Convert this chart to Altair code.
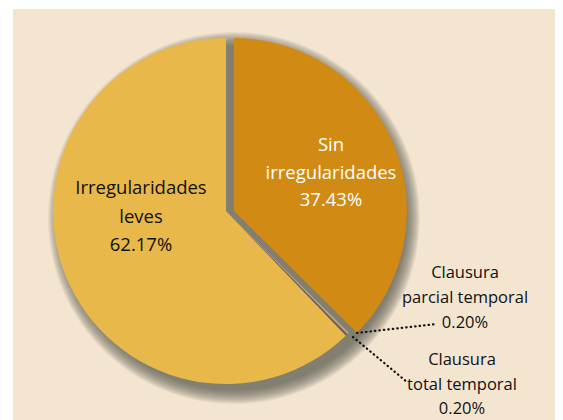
import math
import altair as alt
import pandas as pd

# ---- data ----
categories = ["Sin irregularidades", "Clausura parcial temporal",
              "Clausura total temporal", "Irregularidades leves"]
shares = [37.43, 0.20, 0.20, 62.17]
label_lines = [["Sin", "irregularidades"], ["Clausura", "parcial temporal"],
               ["Clausura", "total temporal"], ["Irregularidades", "leves"]]
slice_colors = ["#D18A13", "#B6A488", "#7B5C58", "#E8B84A"]

starts, ends, acc = [], [], 0.0
for s in shares:
    starts.append(acc)
    acc += s
    ends.append(acc)

labels = [lines + [f"{v:.2f}%"] for lines, v in zip(label_lines, shares)]
df = pd.DataFrame({"category": categories, "share": shares, "start": starts,
                   "end": ends, "label": labels})

# ---- layout ----
W, H = 547, 412
R = 173
CX, CY = 218, 203          # centre of the pie
EXPLODE = 8                # horizontal offset of the "Sin irregularidades" slice
BG = "#F4E5D1"
FONT = "Open Sans"

theta_scale = alt.Scale(domain=[0, 100], range=[0, 2 * math.pi])
color_scale = alt.Scale(domain=categories, range=slice_colors)

one = alt.Data(values=[{"k": 0}])

background = alt.Chart(one).mark_rect(color=BG).encode(
    x=alt.value(5), x2=alt.value(W), y=alt.value(1), y2=alt.value(H))

shadow_layers = []
for k in range(15, 0, -1):
    shadow_layers.append(
        alt.Chart(one).mark_arc(radius=R + k - 2, color="#5E564A", opacity=0.08).encode(
            theta=alt.value(0), theta2=alt.value(2 * math.pi),
            x=alt.value(CX + 8), y=alt.value(CY + 7)))

base = alt.Chart(df)


def slices(cats, cx, cy):
    return base.transform_filter(
        alt.FieldOneOfPredicate(field="category", oneOf=cats)
    ).mark_arc(radius=R).encode(
        theta=alt.Theta("start:Q", scale=theta_scale),
        theta2="end:Q",
        color=alt.Color("category:N", scale=color_scale, legend=None),
        x=alt.value(cx), y=alt.value(cy))


main_slices = slices([categories[3], categories[1], categories[2]], CX, CY)
sin_slice = slices([categories[0]], CX + EXPLODE, CY)


def label(cat, x, y, color, lh, size):
    return base.transform_filter(
        alt.FieldEqualPredicate(field="category", equal=cat)
    ).mark_text(font=FONT, fontSize=size, color=color, align="center",
                baseline="middle", lineHeight=lh).encode(
        text="label", x=alt.value(x), y=alt.value(y))


def leader(x1, y1, x2, y2):
    return alt.Chart(one).mark_rule(color="#111111", strokeWidth=2.2,
                                    strokeDash=[0.5, 4], strokeCap="round").encode(
        x=alt.value(x1), y=alt.value(y1), x2=alt.value(x2), y2=alt.value(y2))


chart = alt.layer(
    background, *shadow_layers, main_slices, sin_slice,
    leader(349, 325, 428, 316), leader(345, 329, 399, 374),
    label(categories[0], 323, 137, "white", 27.5, 18.5),
    label(categories[3], 133, 180, "#111111", 28.5, 18.5),
    label(categories[1], 457, 265, "#111111", 25, 16.5),
    label(categories[2], 454, 352, "#111111", 24.5, 16.5),
).properties(
    width=W, height=H, autosize=alt.AutoSizeParams(type="none"), padding=0,
    background="white"
).configure_view(stroke=None)

chart.save("out.html", embed_options={"renderer": "svg", "actions": False})
